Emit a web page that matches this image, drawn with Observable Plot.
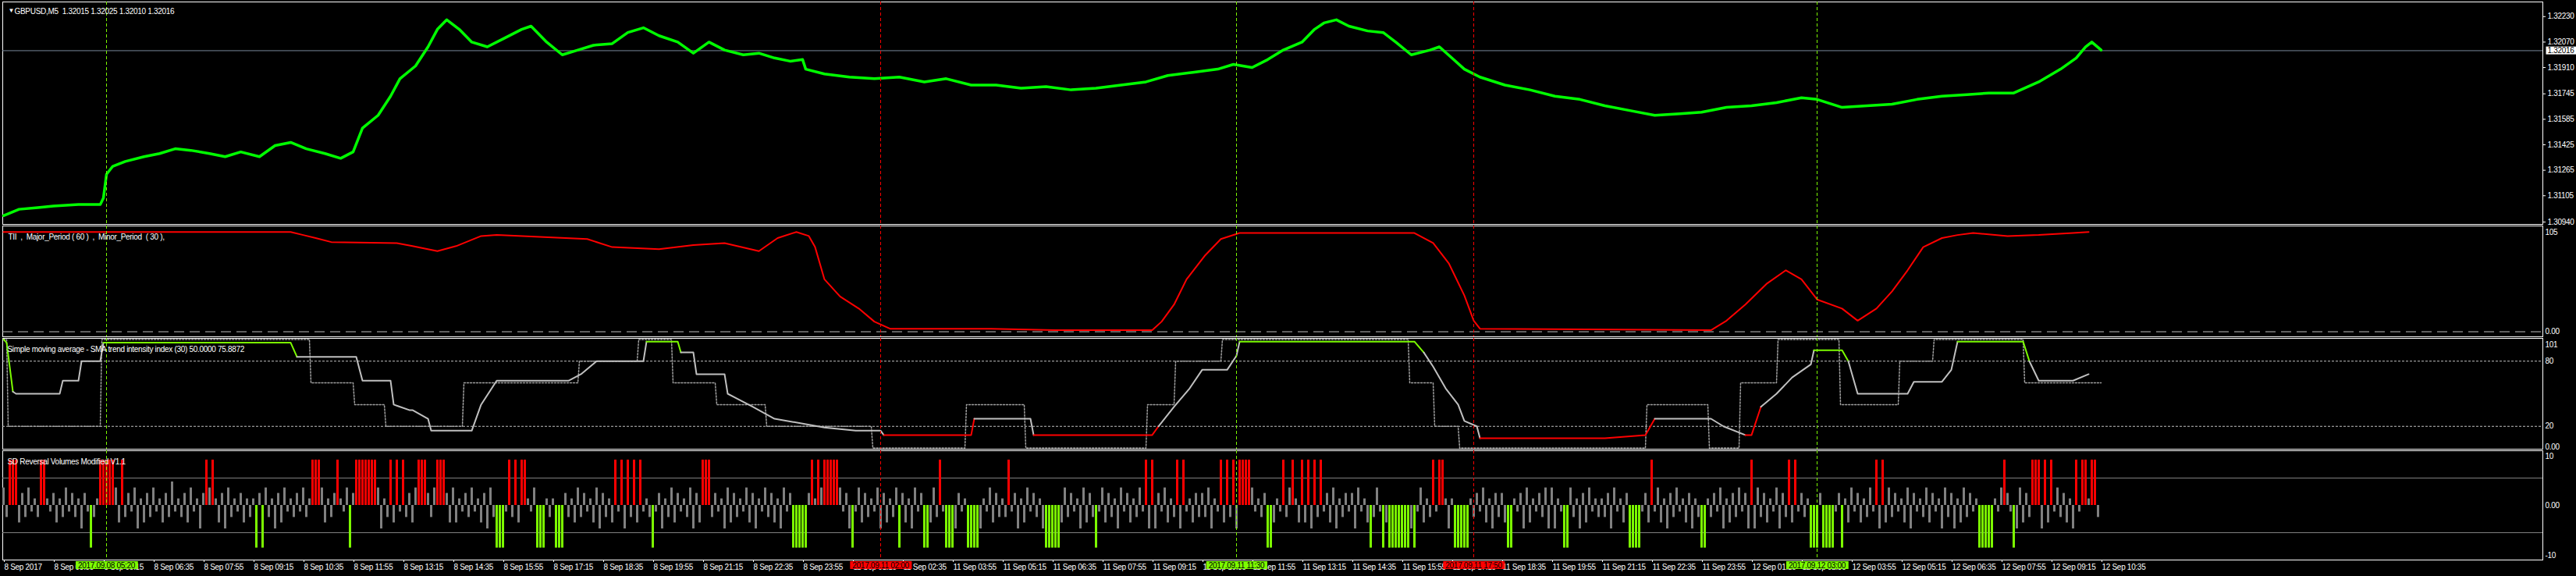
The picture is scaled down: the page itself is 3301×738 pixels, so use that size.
<!DOCTYPE html>
<html><head><meta charset="utf-8">
<script src="https://cdn.jsdelivr.net/npm/d3@7"></script>
<script src="https://cdn.jsdelivr.net/npm/@observablehq/plot@0.6"></script>
<style>
html,body{margin:0;padding:0;background:#000;overflow:hidden}
#chart{position:relative;width:3301px;height:738px;background:#000}
#chart svg{position:absolute;left:0;overflow:visible}
</style></head><body><div id="chart"></div>
<script>
// ---------------- data ----------------
const title1 = "GBPUSD,M5  1.32015 1.32025 1.32010 1.32016";
const title2 = "TII  ,  Major_Period ( 60 )  ,  Minor_Period  ( 30 ),";
const title3 = "Simple moving average - SMA trend intensity index (30) 50.0000 75.8872";
const title4 = "SD Reversal Volumes Modified V1.1";
const timeLabels = ["8 Sep 2017","8 Sep 03:55","8 Sep 05:15","8 Sep 06:35","8 Sep 07:55","8 Sep 09:15","8 Sep 10:35","8 Sep 11:55","8 Sep 13:15","8 Sep 14:35","8 Sep 15:55","8 Sep 17:15","8 Sep 18:35","8 Sep 19:55","8 Sep 21:15","8 Sep 22:35","8 Sep 23:55","11 Sep 01:15","11 Sep 02:35","11 Sep 03:55","11 Sep 05:15","11 Sep 06:35","11 Sep 07:55","11 Sep 09:15","11 Sep 10:35","11 Sep 11:55","11 Sep 13:15","11 Sep 14:35","11 Sep 15:55","11 Sep 17:15","11 Sep 18:35","11 Sep 19:55","11 Sep 21:15","11 Sep 22:35","11 Sep 23:55","12 Sep 01:15","12 Sep 02:35","12 Sep 03:55","12 Sep 05:15","12 Sep 06:35","12 Sep 07:55","12 Sep 09:15","12 Sep 10:35"];
const barsPerLabel = 16;
const priceTicks = [1.32230,1.32070,1.31910,1.31745,1.31585,1.31425,1.31265,1.31105,1.30940];
const lastPrice = 1.32016;
const vlineBars = [33, 281, 395, 471, 581];
const vlineLabels = ["2017.09.08 05:20","2017.09.11 02:00","2017.09.11 11:30","2017.09.11 17:50","2017.09.12 03:00"];
const vlineKinds = ["buy","sell","buy","sell","buy"];

// price path (bar index, price)
const priceBars = [0,5,11,16,24,31,32,33,35,39,45,50,55,60,66,71,76,82,87,92,97,103,108,112,115,120,124,127,132,136,139,142,146,150,155,160,166,169,174,179,184,189,195,200,205,210,216,221,226,231,237,242,247,252,256,257,263,271,279,287,295,302,310,318,326,334,342,350,358,366,373,381,389,394,400,405,410,416,420,423,427,431,437,442,446,451,457,460,464,468,473,481,489,497,505,513,521,529,537,544,552,560,568,576,581,589,597,605,613,621,629,636,644,652,659,664,667,669,672];
const priceVals = [1.3098,1.3102,1.3103,1.3104,1.3105,1.3105,1.3109,1.3124,1.3129,1.3132,1.3135,1.3137,1.3140,1.3139,1.3137,1.3135,1.3138,1.3135,1.3142,1.3144,1.3140,1.3137,1.3134,1.3138,1.3153,1.3161,1.3173,1.3184,1.3192,1.3204,1.3215,1.3221,1.3215,1.3207,1.3204,1.3209,1.3215,1.3217,1.3207,1.3199,1.3202,1.3205,1.3206,1.3213,1.3216,1.3211,1.3207,1.3200,1.3207,1.3202,1.3199,1.3200,1.3197,1.3195,1.3196,1.3190,1.3187,1.3185,1.3184,1.3185,1.3182,1.3184,1.3180,1.3180,1.3178,1.3179,1.3177,1.3178,1.3180,1.3182,1.3186,1.3188,1.3190,1.3193,1.3191,1.3196,1.3202,1.3207,1.3215,1.3219,1.3221,1.3217,1.3214,1.3213,1.3207,1.3199,1.3202,1.3204,1.3197,1.3190,1.3185,1.3180,1.3177,1.3173,1.3171,1.3167,1.3164,1.3161,1.3162,1.3163,1.3166,1.3167,1.3169,1.3172,1.3171,1.3166,1.3167,1.3168,1.3171,1.3173,1.3174,1.3175,1.3175,1.3182,1.3190,1.3197,1.3204,1.3207,1.3202];

// TII (bar index, value)
const tiiBars = [0,92,96,100,105,126,131,139,145,153,158,187,195,210,221,231,242,248,254,258,260,263,268,274,279,284,295,316,337,368,371,375,379,385,390,396,452,458,463,468,471,473,547,552,558,565,571,576,581,589,594,600,605,610,615,621,626,631,642,652,663,668];
const tiiVals = [99,99,96,93,89,88,85,80,85,95,96,92,84,82,86,88,80,93,99,95,84,52,35,23,10,3,3,3,1.5,1.5,10,27,52,76,92,98,98,88,68,36,11,3,1.5,11,27,48,61,52,32,23,11,23,40,61,84,93,96,98,95,96,98,99];

// SMA of TII (solid) and stepped signal (dotted)
const smaBars = [0,1,3,4,18,19,24,25,31,32,92,94,113,115,124,125,130,131,136,137,150,153,158,181,185,190,205,206,216,217,221,222,231,232,240,247,263,273,281,282,310,311,329,330,368,370,375,380,384,392,395,396,452,455,458,462,466,468,472,473,513,526,529,534,547,551,558,560,563,568,573,579,580,589,591,594,610,612,621,624,626,647,649,652,663,668];
const smaVals = [100,97,52,50,50,62,62,80,80,97,97,84,84,62,62,40,35,35,27,16,16,40,62,62,68,80,80,98,98,88,88,68,68,50,38,27,19,16,16,12,12,27,27,12,12,20,38,55,72,72,85,98,98,88,75,55,40,25,20,9,9,12,27,27,27,20,12,12,38,50,65,77,90,90,80,50,50,61,61,72,98,98,80,62,62,68];
const sigBars = [0,1,1.5,31,31.5,98,98.5,112,112.5,122,122.5,147,147.5,184,184.5,203,203.5,214,214.5,228,228.5,244,244.5,278,278.5,308,308.5,327,327.5,366,366.5,375,375.5,390,390.5,450,450.5,458,458.5,466,466.5,526,526.5,546,546.5,556,556.5,568,568.5,588,588.5,607,607.5,618,618.5,647,647.5,672];
const sigVals = [100,100,20,20,100,100,60,60,40,40,20,20,60,60,80,80,100,100,60,60,40,40,20,20,0,0,40,40,0,0,40,40,80,80,100,100,60,60,20,20,0,0,40,40,0,0,60,60,100,100,40,40,80,80,100,100,60,60];

// reversal volumes: tall red / lime bars and grey bars (code per bar: 1-4 up, a-d down)
const volRedBars = [2,3,4,12,13,31,32,33,34,35,38,65,67,99,100,101,107,113,114,115,116,117,118,119,124,126,128,133,134,135,139,140,141,162,164,166,167,196,198,200,202,204,224,225,226,259,261,263,264,265,266,267,300,322,366,368,376,378,390,392,394,396,397,398,399,410,413,416,418,420,422,458,460,461,528,560,572,574,600,602,641,650,651,652,654,656,664,666,667,669,670];
const volLimeBars = [28,81,83,111,158,159,160,171,172,173,177,178,179,208,253,254,255,256,257,272,287,295,296,302,303,304,309,310,311,312,334,335,336,337,338,350,405,406,438,442,444,445,446,447,448,449,450,452,465,466,467,468,469,482,483,500,501,521,522,523,524,544,545,579,580,581,583,584,585,586,589,633,634,635,636,637,644];
const volRedValue = 8.3, volLimeValue = -7.8;
const volGreyCodes = "3b2a1c2b3a1b2c1a2c1b3a2b1d2a3b1c1a2b3c1b2a3d1c2b3a1c2b4a1b2c3a1d2b3a1c2d3b1a2c1b1c2a3b1d2c3a1b2a3b1c2a3c1b2d1a3b2a3c1b2a3d1b2c1a1b2c3a1c2b3a1d2c3c1a2b3a1c2d3b1a2a1b3c2b1a3c2d1b1d3a2b1c3b2a1c3d2b1c3a2d1b3c2a1b3a2d1b3c2a1b3d2c1c3b2a1d3c2b1a3c2d1a3b2c1d3a2b1c3b2c1a3d2b1c3a2d1a3c2b1a3d2c1b3a2c1d3a2b1c3b2a1d3d2a1c3b2d1a3c2b1b3a2d1c3a2b1d3c2a1c3b2a1d3c2b1a3c2b1d3a2c1b3a2d1d2a3c1b2d3a1c2b2b3d1a2c3b1d2a3c3a1b2d3c1a2b3d1c1c2d3b1a2c3d1b2a2d3a1c2b3a1c2d3b3b1d2a3c1b2a3c1d1a2c3d1b2a3c1d2b2c3b1a2d3c1a2b3d3d1a2c3b1d2c3a1b1b2d3a1c2b3d1a2c2a3c1d2b3a1c2d1b3c1b2a3d1c2b3a2d1d3b2c1a3d2b1c3a2b1a3d2c1b3a2d1c3a2c1b3a2d1c3b2a1c3d2a1b3c2a1d3b2d1c3b2a1d3b2c1a3b2a1d3c2b1a3d2c1a3b2c1d3a2b1c3b";
const greyHeights = {"1": 1.2, "2": 2.2, "3": 3.2, "4": 4.3, "a": -1.2, "b": -2.2, "c": -3.2, "d": -4.3};

// ---------------- chart ----------------
const W = 3301;
const xDomain = [-0.25, 813.5];
const FONT = "'Liberation Sans', Arial, sans-serif";
const LIME = "#7cfc00", RED = "#ff0000", GREY = "#c0c0c0", VGREY = "#808080";
const common = {
  width: W, marginLeft: 3, marginRight: 43,
  x: {domain: xDomain, axis: null},
  style: {background: "transparent", color: "white", fontFamily: FONT, fontSize: "10px", letterSpacing: "-0.3px", overflow: "visible"}
};
const vlines = vlineBars.map((b, i) => ({bar: b, label: vlineLabels[i], color: vlineKinds[i] === "buy" ? LIME : RED}));
const vRule = () => Plot.ruleX(vlines, {x: "bar", stroke: "color", strokeDasharray: "4,3"});
const price = priceBars.map((b, i) => ({bar: b, v: priceVals[i]}));
const tii = tiiBars.map((b, i) => ({bar: b, v: tiiVals[i]}));
const sma = smaBars.map((b, i) => ({bar: b, v: smaVals[i], c: smaVals[i] >= 90 ? LIME : smaVals[i] <= 13 ? RED : GREY}));
const sig = sigBars.map((b, i) => ({bar: b, v: sigVals[i]}));
const vol = Array.from(volGreyCodes, (ch, bar) => {
  if (volRedBars.includes(bar)) return {bar, v: volRedValue, c: RED};
  if (volLimeBars.includes(bar)) return {bar, v: volLimeValue, c: LIME};
  return {bar, v: greyHeights[ch], c: VGREY};
});
const titleMark = (t, dx, dy) => Plot.text([t], {frameAnchor: "top-left", dx, dy, text: d => d, fill: "white", textAnchor: "start"});
const edgeLabel = (value, txt, dy) => Plot.text([value], {y: d => d, frameAnchor: "right", dx: 3, dy, text: () => txt, fill: "white", textAnchor: "start"});

const p1 = Plot.plot({
  ...common, height: 288, marginTop: 2, marginBottom: 1,
  y: {domain: [1.30925, 1.32322], axis: null},
  marks: [
    Plot.frame({stroke: "white"}),
    Plot.ruleY([lastPrice], {stroke: "#778899"}),
    Plot.line(price, {x: "bar", y: "v", stroke: "#00ff00", strokeWidth: 3.5}),
    vRule(),
    Plot.axisY(priceTicks, {anchor: "right", tickSize: 3, tickPadding: 3, label: null, tickFormat: d => d.toFixed(5)}),
    Plot.text([lastPrice], {y: d => d, frameAnchor: "right", dx: 6, textAnchor: "start", fill: "black", text: d => d.toFixed(5)}),
    Plot.text(["\u25BC"], {frameAnchor: "top-left", dx: 7, dy: 8, text: d => d, fill: "white", fontSize: 8, textAnchor: "start"}),
    titleMark(title1, 15, 8.5)
  ]
});
const p2 = Plot.plot({
  ...common, height: 144, marginTop: 1, marginBottom: 1,
  y: {domain: [-5, 105], axis: null},
  marks: [
    Plot.frame({stroke: "white"}),
    Plot.ruleY([0], {stroke: GREY, strokeDasharray: "13,7"}),
    Plot.line(tii, {x: "bar", y: "v", stroke: RED, strokeWidth: 2}),
    vRule(),
    edgeLabel(105, "105", 8),
    edgeLabel(0, "0.00", 0),
    titleMark(title2, 7, 10)
  ]
});
const p3 = Plot.plot({
  ...common, height: 144, marginTop: 1, marginBottom: 1,
  y: {domain: [-1, 101], axis: null},
  marks: [
    Plot.frame({stroke: "white"}),
    Plot.ruleY([80, 20], {stroke: GREY, strokeDasharray: "3,2"}),
    Plot.line(sig, {x: "bar", y: "v", stroke: "#a0a0a0", strokeDasharray: "2,2"}),
    Plot.line(sma, {x: "bar", y: "v", stroke: "c", z: null, strokeWidth: 2}),
    vRule(),
    edgeLabel(101, "101", 8),
    edgeLabel(80, "80", 0),
    edgeLabel(20, "20", 0),
    edgeLabel(-1, "0.00", -3),
    titleMark(title3, 6, 10)
  ]
});
const tickBars = timeLabels.map((_, i) => i * barsPerLabel);
const p4 = Plot.plot({
  ...common, height: 162, marginTop: 1, marginBottom: 21,
  y: {domain: [-10, 10], axis: null},
  marks: [
    Plot.frame({stroke: "white"}),
    Plot.ruleY([5, -5], {stroke: VGREY}),
    Plot.rectY(vol, {x1: d => d.bar - 0.25, x2: d => d.bar + 0.5, y1: 0, y2: "v", fill: "c"}),
    vRule(),
    edgeLabel(10, "10", 7),
    edgeLabel(0, "0.00", 0),
    edgeLabel(-10, "-10", -6),
    titleMark(title4, 6, 10),
    Plot.axisX(tickBars, {anchor: "bottom", label: null, tickSize: 3, tickPadding: 2, textAnchor: "start", dx: 1, tickFormat: d => timeLabels[d / barsPerLabel]}),
    Plot.text(vlines, {x: "bar", frameAnchor: "bottom", dy: 10, text: "label", fill: "black"})
  ]
});

const chart = document.getElementById("chart");
const tops = [0, 288, 432, 576];
[p1, p2, p3, p4].forEach((svg, i) => { svg.style.top = tops[i] + "px"; chart.appendChild(svg); });

function boxBehind(svg, texts, colors, padX, padY) {
  svg.querySelectorAll("text").forEach(node => {
    const k = texts.indexOf(node.textContent);
    if (k < 0 || node.getAttribute("fill") !== "black" && node.closest("g").getAttribute("fill") !== "black") return;
    const b = node.getBBox();
    const r = document.createElementNS("http://www.w3.org/2000/svg", "rect");
    r.setAttribute("x", b.x - padX); r.setAttribute("y", b.y - padY);
    r.setAttribute("width", b.width + 2 * padX); r.setAttribute("height", b.height + 2 * padY);
    r.setAttribute("fill", colors[k]);
    if (node.getAttribute("transform")) r.setAttribute("transform", node.getAttribute("transform"));
    node.parentNode.insertBefore(r, node);
  });
}
boxBehind(p1, [lastPrice.toFixed(5)], ["white"], 2, -0.5);
boxBehind(p4, vlineLabels, vlines.map(d => d.color), 3, -0.5);
</script></body></html>
